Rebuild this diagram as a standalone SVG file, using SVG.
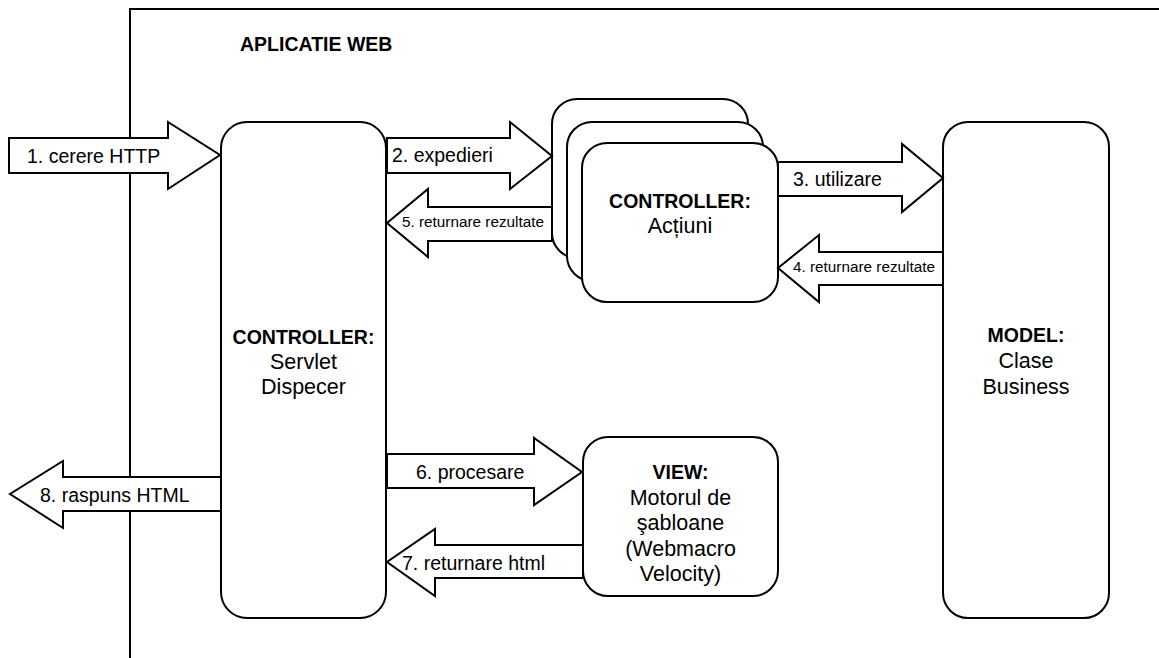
<svg xmlns="http://www.w3.org/2000/svg" width="1159" height="658" viewBox="0 0 1159 658">
<style>
.box{fill:#fff;stroke:#000;stroke-width:2}
.arr{fill:#fff;stroke:#000;stroke-width:2;stroke-linejoin:miter}
.frame{fill:none;stroke:#000;stroke-width:2}
text{font-family:"Liberation Sans",Arial,sans-serif;fill:#000}
.lbl{font-size:19.5px}
.sm{font-size:15.3px}
.hd{font-size:19.5px;font-weight:bold}
.nt{font-size:21.5px}
.c{text-anchor:middle}
</style>
<rect width="1159" height="658" fill="#fff"/>
<g id="frame">
<path class="frame" d="M130,658 V9 H1159"/>
<text x="240" y="51" class="hd">APLICATIE WEB</text>
</g>
<g id="servlet">
<rect class="box" x="221" y="122" width="165" height="496" rx="26"/>
<text x="303.5" y="344" class="hd c">CONTROLLER:</text>
<text x="303.5" y="369" class="nt c">Servlet</text>
<text x="303.5" y="394" class="nt c">Dispecer</text>
</g>
<g id="actions">
<rect class="box" x="552" y="99" width="196" height="159" rx="25"/>
<rect class="box" x="567" y="122" width="196" height="159" rx="25"/>
<rect class="box" x="582" y="143" width="196" height="159" rx="25"/>
<text x="680" y="208" class="hd c">CONTROLLER:</text>
<text x="680" y="233" class="nt c">Acțiuni</text>
</g>
<g id="model">
<rect class="box" x="943" y="122" width="166" height="496" rx="25"/>
<text x="1026" y="342" class="hd c">MODEL:</text>
<text x="1026" y="368" class="nt c">Clase</text>
<text x="1026" y="394" class="nt c">Business</text>
</g>
<g id="view">
<rect class="box" x="583" y="437" width="195" height="159" rx="25"/>
<text x="680.5" y="479" class="hd c">VIEW:</text>
<text x="680.5" y="505" class="nt c">Motorul de</text>
<text x="680.5" y="530" class="nt c">şabloane</text>
<text x="680.5" y="556" class="nt c">(Webmacro</text>
<text x="680.5" y="581" class="nt c">Velocity)</text>
</g>
<g id="connectors">
<g id="a1"><polygon class="arr" points="9,138 168,138 168,122 220,155 168,189 168,173 9,173"/><text x="27" y="163" class="lbl">1. cerere HTTP</text></g>
<g id="a2"><polygon class="arr" points="387,138 510,138 510,122 552,156 510,189 510,173 387,173"/><text x="392" y="162" class="lbl">2. expedieri</text></g>
<g id="a5"><polygon class="arr" points="552,207 428,207 428,189 387,223 428,257 428,241 552,241"/><text x="402" y="227" class="sm">5. returnare rezultate</text></g>
<g id="a3"><polygon class="arr" points="778,162 902,162 902,144 943,178 902,212 902,196 778,196"/><text x="793" y="186" class="lbl">3. utilizare</text></g>
<g id="a4"><polygon class="arr" points="943,252 819,252 819,235 778,268 819,302 819,285 943,285"/><text x="793" y="272" class="sm">4. returnare rezultate</text></g>
<g id="a6"><polygon class="arr" points="387,454 534,454 534,438 582,472 534,505 534,488 387,488"/><text x="416" y="479" class="lbl">6. procesare</text></g>
<g id="a7"><polygon class="arr" points="583,545 435,545 435,529 387,562 435,596 435,578 583,578"/><text x="402" y="570" class="lbl">7. returnare html</text></g>
<g id="a8"><polygon class="arr" points="221,477 63,477 63,461 10,494 63,528 63,511 221,511"/><text x="40" y="502" class="lbl">8. raspuns HTML</text></g>
</g>
</svg>
